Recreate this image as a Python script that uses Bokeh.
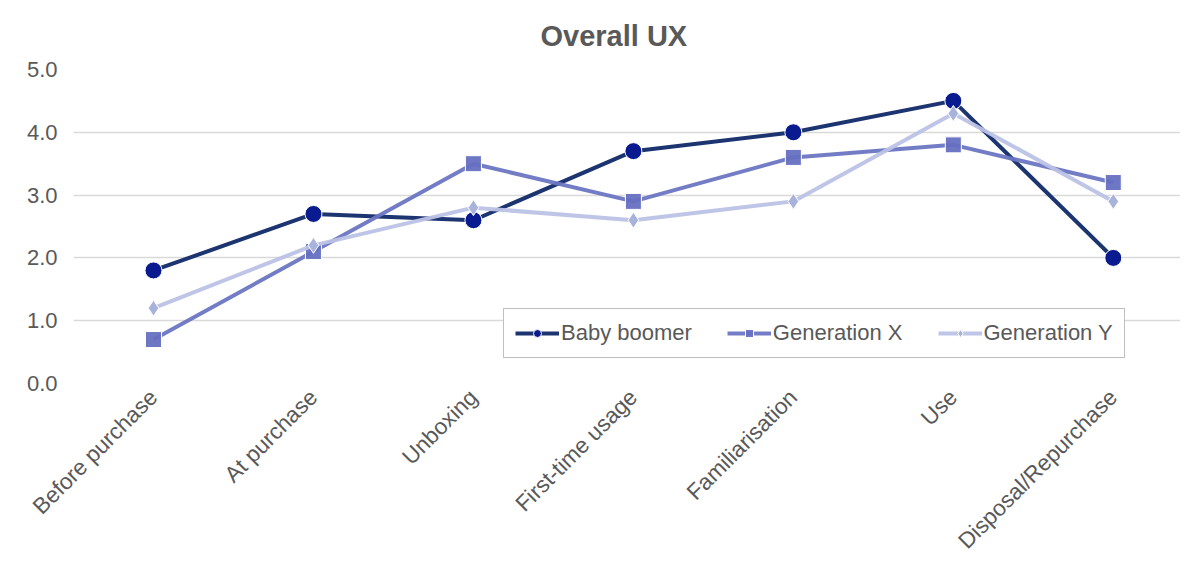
import math
from bokeh.plotting import figure
from bokeh.models import FixedTicker, Range1d, Legend, LegendItem
from bokeh.embed import file_html
from bokeh.resources import INLINE

categories = ["Before purchase", "At purchase", "Unboxing", "First-time usage",
              "Familiarisation", "Use", "Disposal/Repurchase"]
baby_boomer = [1.8, 2.7, 2.6, 3.7, 4.0, 4.5, 2.0]
generation_x = [0.7, 2.1, 3.5, 2.9, 3.6, 3.8, 3.2]
generation_y = [1.2, 2.2, 2.8, 2.6, 2.9, 4.3, 2.9]
y_ticks = [0, 1, 2, 3, 4, 5]

xs = list(range(len(categories)))

p = figure(width=1180, height=565, output_backend="svg", toolbar_location=None,
           x_range=Range1d(-0.5, 6.42), y_range=Range1d(0, 5.0),
           min_border_left=73, min_border_right=0, min_border_top=69, min_border_bottom=176)
p.outline_line_color = None
p.background_fill_color = "white"

p.title.text = "Overall UX"
p.title.align = "left"
p.title.text_font = "Liberation Sans"
p.title.text_font_size = "29px"
p.title.text_font_style = "bold"
p.title.text_color = "#595959"
p.title.offset = 467
p.title.standoff = 35

p.xaxis.ticker = FixedTicker(ticks=xs)
p.xaxis.major_label_overrides = {i: c for i, c in enumerate(categories)}
p.xaxis.major_label_orientation = math.pi / 4
p.yaxis.ticker = FixedTicker(ticks=y_ticks)
p.yaxis.major_label_overrides = {t: f"{t:.1f}" for t in y_ticks}
for ax in (p.xaxis[0], p.yaxis[0]):
    ax.axis_line_color = None
    ax.major_tick_line_color = None
    ax.minor_tick_line_color = None
    ax.major_label_text_font = "Liberation Sans"
    ax.major_label_text_font_size = "22px"
    ax.major_label_text_color = "#595959"
p.xaxis.major_label_text_font_size = "22.5px"
p.yaxis.major_label_standoff = 10
p.xaxis.major_label_standoff = 4

p.xgrid.grid_line_color = None
p.ygrid.grid_line_color = "#d9d9d9"
p.ygrid.grid_line_width = 1.5

l1 = p.line(xs, baby_boomer, line_color="#1c3570", line_width=4)
m1 = p.scatter(xs, baby_boomer, marker="circle", size=17, fill_color="#0a1a8f",
               line_color="white", line_width=1)
l2 = p.line(xs, generation_x, line_color="#6b76c2", line_width=4, line_alpha=0.95)
m2 = p.scatter(xs, generation_x, marker="square", size=16, fill_color="#6670c0",
               line_color="white", line_width=1, fill_alpha=0.95)
l3 = p.line(xs, generation_y, line_color="#bcc2e5", line_width=4, line_alpha=0.95)
m3 = p.scatter(xs, generation_y, marker="diamond", size=16, fill_color="#a8b3dc",
               line_color="white", line_width=1)

legend = Legend(items=[
    LegendItem(label="Baby boomer", renderers=[l1, m1]),
    LegendItem(label="Generation X", renderers=[l2, m2]),
    LegendItem(label="Generation Y", renderers=[l3, m3]),
], orientation="horizontal", location=(430, 25))
legend.label_text_font = "Liberation Sans"
legend.label_text_font_size = "22px"
legend.label_text_color = "#595959"
legend.border_line_color = "#7f7f7f"
legend.border_line_width = 1
legend.background_fill_color = "white"
legend.background_fill_alpha = 1
legend.glyph_width = 44
legend.label_standoff = 2
legend.spacing = 35
legend.padding = 11
legend.margin = 0
p.add_layout(legend, "center")

open("out.html", "w").write(file_html(p, INLINE))
